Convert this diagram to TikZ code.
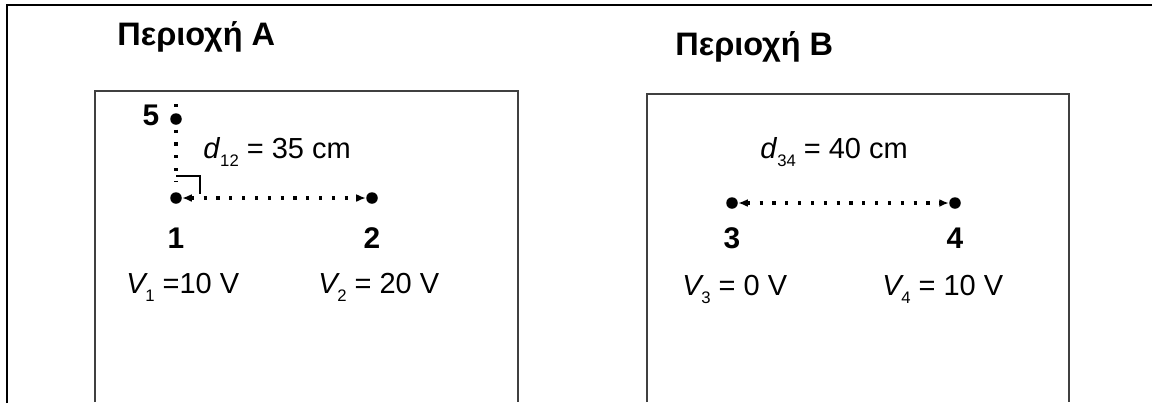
\documentclass[tikz,border=0pt]{standalone}
\usepackage{fontspec}
\setmainfont{Liberation Sans}
\usetikzlibrary{arrows.meta,positioning,calc}

\newcommand{\lowidx}[1]{\raisebox{-0.55ex}{\fontsize{9.5}{10}\selectfont #1}}

\tikzset{
  charge/.style={circle, fill=black, inner sep=0pt, minimum size=0.23cm},
  numlabel/.style={anchor=base, inner sep=0pt, font=\fontsize{17}{20}\selectfont\bfseries},
  quantity/.style={anchor=base west, inner sep=0pt, font=\fontsize{16.5}{20}\selectfont},
  regiontitle/.style={anchor=base west, inner sep=0pt, font=\fontsize{18.5}{22}\selectfont\bfseries},
  dotline/.style={line width=1.8pt, dash pattern=on 1.8pt off 5.5pt},
  distarrow/.style={dotline, {Latex[length=5.5pt,width=4.5pt]}-{Latex[length=5.5pt,width=4.5pt]}},
  region/.style={draw=black!75, line width=0.8pt}
}

\begin{document}
\begin{tikzpicture}[x=0.02cm, y=-0.02cm]
  \useasboundingbox (0,0) rectangle (1152,403);

  % Outer frame
  \draw[line width=1.5pt] (7,403) -- (7,5) -- (1152,5);

  % Region boxes
  \draw[region] (95,402) -- (95,91) -- (518,91) -- (518,402);
  \draw[region] (647,402) -- (647,94) -- (1069,94) -- (1069,402);

  % Titles
  \node[regiontitle] (titleA) at (117,45) {Περιοχή A};
  \node[regiontitle] (titleB) at (675,55) {Περιοχή B};

  % Region A
  \node[charge] (p1) at (176,198) {};
  \node[charge] (p2) at (372,198) {};
  \node[charge] (p5) at (176,119) {};
  \coordinate (top5) at (176,104);
  \draw[dotline] (top5) -- ($(p1)+(0,-16)$);
  \draw[distarrow] (p1) -- (p2);
  \draw[line width=0.6pt] ($(p1)+(0,-22)$) -| ($(p1)+(24,-4)$);

  \node[numlabel] (n1) at (176,248) {1};
  \node[numlabel] (n2) at (372,248) {2};
  \node[numlabel] (n5) at (151,125) {5};
  \node[quantity] (d12) at (203,158) {\textit{d}\lowidx{12} = 35 cm};
  \node[quantity] (v1) at (126,293) {\textit{V}\kern-1.5pt\lowidx{1} =10 V};
  \node[quantity] (v2) at (318,293) {\textit{V}\kern-1.5pt\lowidx{2} = 20 V};

  % Region B
  \node[charge] (p3) at (732,203) {};
  \node[charge] (p4) at (955,203) {};
  \draw[distarrow] (p3) -- (p4);

  \node[numlabel] (n3) at (732,248) {3};
  \node[numlabel] (n4) at (955,248) {4};
  \node[quantity] (d34) at (760,158) {\textit{d}\lowidx{34} = 40 cm};
  \node[quantity] (v3) at (682,295) {\textit{V}\kern-1.5pt\lowidx{3} = 0 V};
  \node[quantity] (v4) at (882,295) {\textit{V}\kern-1.5pt\lowidx{4} = 10 V};
\end{tikzpicture}
\end{document}
